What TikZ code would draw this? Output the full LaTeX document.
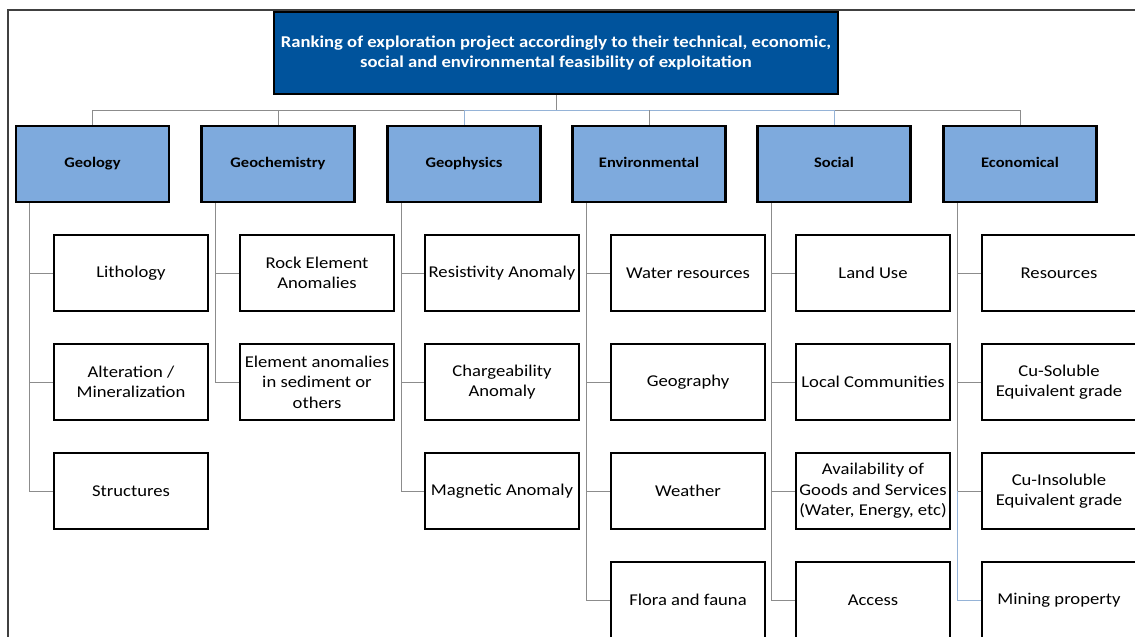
\documentclass[tikz,border=0pt]{standalone}
\usepackage{fontspec}
\setmainfont{Carlito}[FakeStretch=1.13]
\definecolor{darkblue}{RGB}{0,83,156}
\definecolor{catblue}{RGB}{126,170,221}
\definecolor{linkgray}{RGB}{140,140,140}
\definecolor{linkblue}{RGB}{149,179,215}
\newcommand{\boxfont}{\fontsize{16.5}{20.5}\selectfont}
\tikzset{
  goal/.style={draw=black, line width=2.6pt, fill=darkblue, text=white, font=\boxfont\bfseries,
    minimum width=564pt, minimum height=82pt, align=center, inner sep=1pt},
  cat/.style={draw=black, line width=2.6pt, fill=catblue, font=\fontsize{14.6}{18}\selectfont\bfseries,
    minimum width=153pt, minimum height=76pt, text height=10pt, text depth=3pt},
  item/.style={draw=black, line width=2.6pt, fill=white, font=\boxfont,
    minimum width=154pt, minimum height=76pt, align=center, inner sep=1pt},
  link/.style={draw=linkgray, line width=1pt},
  bluelink/.style={draw=linkblue, line width=1pt}
}
\begin{document}
\begin{tikzpicture}[x=1pt, y=-1pt]
  \clip (0,0) rectangle (1135,637);
  \fill[white] (0,0) rectangle (1135,637);
  % frame
  \draw[black!75, line width=1.6pt] (8,640) -- (8,10) -- (1140,10);

  % top
  \node[goal] (rank) at (556,53) {Ranking of exploration project accordingly to their technical, economic,\\social and environmental feasibility of exploitation};

  % criteria
  \node[cat] (geol) at (92.5,164) {Geology};
  \node[cat] (gchem) at (278,164) {Geochemistry};
  \node[cat] (gphys) at (464,164) {Geophysics};
  \node[cat] (env) at (649,164) {Environmental};
  \node[cat] (soc) at (834,164) {Social};
  \node[cat] (eco) at (1020,164) {Economical};

  \coordinate (bus) at (0,110);
  \draw[link] (rank.south) -- (rank.south |- bus);
  \draw[link] (geol.north) |- (gphys.north |- bus);
  \draw[bluelink] (gphys.north |- bus) -- (soc.north |- bus);
  \draw[link] (soc.north |- bus) -| (eco.north);
  \draw[link] (gchem.north) -- (gchem.north |- bus);
  \draw[bluelink] (gphys.north) -- (gphys.north |- bus);
  \draw[link] (env.north) -- (env.north |- bus);
  \draw[bluelink] (soc.north) -- (soc.north |- bus);

  % Geology
  \node[item] (lith) at (131,273) {Lithology};
  \node[item] (alt) at (131,382) {Alteration /\\Mineralization};
  \node[item] (struc) at (131,491) {Structures};
  \draw[link] ([xshift=15pt]geol.south west) |- (struc.west);
  \draw[link] ([xshift=15pt]geol.south west |- lith.west) -- (lith.west);
  \draw[link] ([xshift=15pt]geol.south west |- alt.west) -- (alt.west);

  % Geochemistry
  \node[item] (rock) at (317,273) {Rock Element\\Anomalies};
  \node[item] (sed) at (317,382) {Element anomalies\\in sediment or\\others};
  \draw[link] ([xshift=15pt]gchem.south west) |- (sed.west);
  \draw[link] ([xshift=15pt]gchem.south west |- rock.west) -- (rock.west);

  % Geophysics
  \node[item] (res) at (502,273) {Resistivity Anomaly};
  \node[item] (charg) at (502,382) {Chargeability\\Anomaly};
  \node[item] (mag) at (502,491) {Magnetic Anomaly};
  \draw[link] ([xshift=15pt]gphys.south west) |- (mag.west);
  \draw[link] ([xshift=15pt]gphys.south west |- res.west) -- (res.west);
  \draw[link] ([xshift=15pt]gphys.south west |- charg.west) -- (charg.west);

  % Environmental
  \node[item] (water) at (688,273) {Water resources};
  \node[item] (geog) at (688,382) {Geography};
  \node[item] (weath) at (688,491) {Weather};
  \node[item] (flora) at (688,600) {Flora and fauna};
  \draw[link] ([xshift=15pt]env.south west) |- (flora.west);
  \draw[link] ([xshift=15pt]env.south west |- water.west) -- (water.west);
  \draw[link] ([xshift=15pt]env.south west |- geog.west) -- (geog.west);
  \draw[link] ([xshift=15pt]env.south west |- weath.west) -- (weath.west);

  % Social
  \node[item] (land) at (873,273) {Land Use};
  \node[item] (comm) at (873,382) {Local Communities};
  \node[item] (goods) at (873,491) {Availability of\\Goods and Services\\(Water, Energy, etc)};
  \node[item] (acc) at (873,600) {Access};
  \draw[link] ([xshift=15pt]soc.south west) |- (acc.west);
  \draw[link] ([xshift=15pt]soc.south west |- land.west) -- (land.west);
  \draw[link] ([xshift=15pt]soc.south west |- comm.west) -- (comm.west);
  \draw[link] ([xshift=15pt]soc.south west |- goods.west) -- (goods.west);

  % Economical
  \node[item] (resrc) at (1059,273) {Resources};
  \node[item] (cusol) at (1059,382) {Cu-Soluble\\Equivalent grade};
  \node[item] (cuins) at (1059,491) {Cu-Insoluble\\Equivalent grade};
  \node[item] (mine) at (1059,600) {Mining property};
  \draw[link] ([xshift=15pt]eco.south west) |- (cuins.west);
  \draw[bluelink] ([xshift=15pt]eco.south west |- cuins.west) |- (mine.west);
  \draw[link] ([xshift=15pt]eco.south west |- resrc.west) -- (resrc.west);
  \draw[link] ([xshift=15pt]eco.south west |- cusol.west) -- (cusol.west);
\end{tikzpicture}
\end{document}
